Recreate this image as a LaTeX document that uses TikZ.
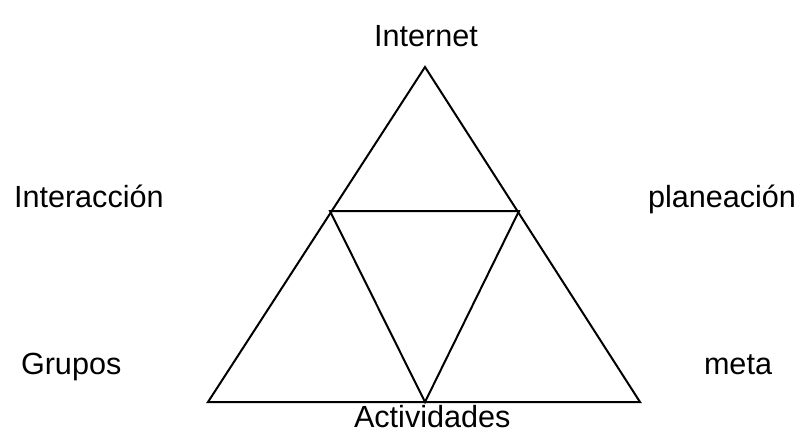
\documentclass[tikz,border=0pt]{standalone}
\usepackage{fontspec}
\setmainfont{Liberation Sans}
\begin{document}
\begin{tikzpicture}[x=0.5pt, y=-0.5pt, line width=1pt,
  lbl/.style={anchor=base west, inner sep=0pt, font=\fontsize{15.3}{18}\selectfont}]
\useasboundingbox (0,0) rectangle (804,430);
%% --- corners of the big triangle and the inner one ---
\coordinate (top)   at (425,67);
\coordinate (botL)  at (208,402);
\coordinate (botR)  at (640,402);
\coordinate (midL)  at (330,211);
\coordinate (midR)  at (519,211);
\coordinate (midB)  at (425,402);

%% --- triangles ---
\draw (top) -- (botL) -- (botR) -- cycle;
\draw (midL) -- (midR) -- (midB) -- cycle;

%% --- labels ---
\node[lbl, anchor=base] (internet) at (426,46) {Internet};
\foreach \n/\x/\y/\t in {inter/13/207/Interacción, plan/647/207/planeación,
                         grupos/20/374/Grupos, meta/703/374/meta,
                         activ/353/427/Actividades}{
  \node[lbl] (\n) at (\x,\y) {\t};
}
\end{tikzpicture}
\end{document}
